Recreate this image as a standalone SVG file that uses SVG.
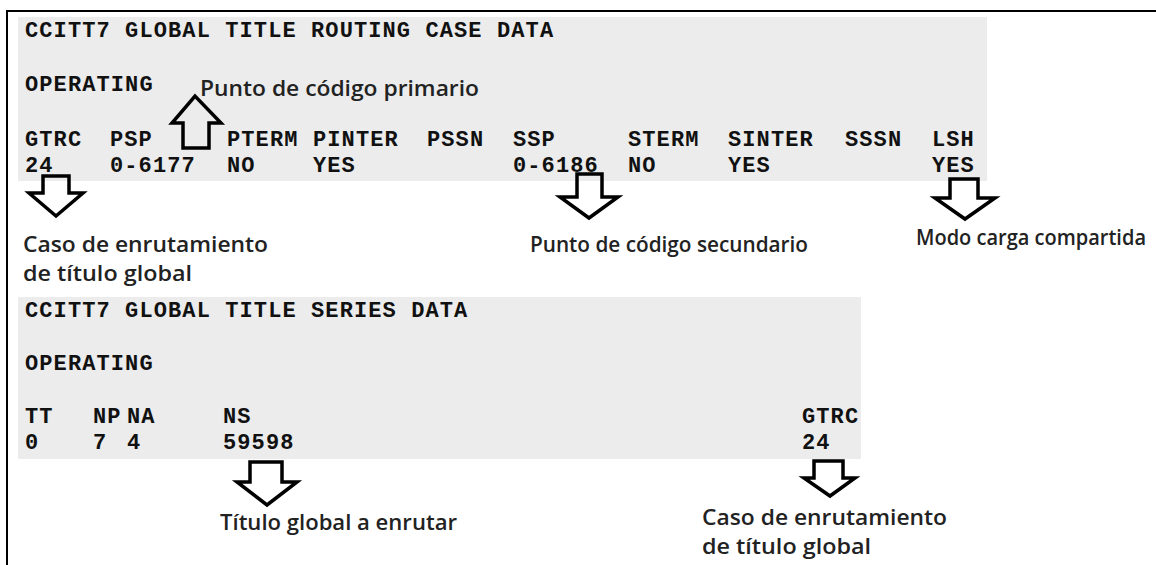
<svg xmlns="http://www.w3.org/2000/svg" width="1156" height="565" viewBox="0 0 1156 565">
<style>
.bg{fill:#ececec}
.frame{stroke:#000;stroke-width:2;fill:none}
.m{font-family:"Liberation Mono","DejaVu Sans Mono",monospace;font-weight:bold;font-size:22px;letter-spacing:1.1px;fill:#111}
.lb{font-family:"Open Sans","Noto Sans",sans-serif;font-weight:600;font-size:22px;fill:#222}
.ar{fill:none;stroke:#000;stroke-width:3.5;stroke-linejoin:miter}
</style>
<rect width="1156" height="565" fill="#fff"/>
<path class="frame" d="M7 565 V11 H1156"/>
<g id="routing-case-data">
<rect class="bg" x="18" y="17" width="969" height="164"/>
<text class="m" x="25" y="37">CCITT7 GLOBAL TITLE ROUTING CASE DATA</text>
<text class="m" x="25" y="91">OPERATING</text>
<text class="m" x="25" y="146">GTRC</text>
<text class="m" x="110" y="146">PSP</text>
<text class="m" x="227" y="146">PTERM</text>
<text class="m" x="313" y="146">PINTER</text>
<text class="m" x="427" y="146">PSSN</text>
<text class="m" x="513" y="146">SSP</text>
<text class="m" x="628" y="146">STERM</text>
<text class="m" x="728" y="146">SINTER</text>
<text class="m" x="845" y="146">SSSN</text>
<text class="m" x="932" y="146">LSH</text>
<text class="m" x="25" y="172">24</text>
<text class="m" x="110" y="172">0-6177</text>
<text class="m" x="227" y="172">NO</text>
<text class="m" x="313" y="172">YES</text>
<text class="m" x="513" y="172">0-6186</text>
<text class="m" x="628" y="172">NO</text>
<text class="m" x="728" y="172">YES</text>
<text class="m" x="932" y="172">YES</text>
</g>
<g id="series-data">
<rect class="bg" x="18" y="297" width="843" height="162"/>
<text class="m" x="25" y="317">CCITT7 GLOBAL TITLE SERIES DATA</text>
<text class="m" x="25" y="370">OPERATING</text>
<text class="m" x="25" y="423">TT</text>
<text class="m" x="93" y="423">NP</text>
<text class="m" x="127" y="423">NA</text>
<text class="m" x="223" y="423">NS</text>
<text class="m" x="802" y="423">GTRC</text>
<text class="m" x="25" y="449">0</text>
<text class="m" x="93" y="449">7</text>
<text class="m" x="127" y="449">4</text>
<text class="m" x="223" y="449">59598</text>
<text class="m" x="802" y="449">24</text>
</g>
<g id="label-primario"><text class="lb" x="200" y="96" textLength="279" lengthAdjust="spacingAndGlyphs">Punto de código primario</text></g>
<g id="label-gtrc-top">
<text class="lb" x="23" y="252" textLength="245" lengthAdjust="spacingAndGlyphs">Caso de enrutamiento</text>
<text class="lb" x="23" y="281" textLength="169" lengthAdjust="spacingAndGlyphs">de título global</text>
</g>
<g id="label-secundario"><text class="lb" x="530" y="252" textLength="278" lengthAdjust="spacingAndGlyphs">Punto de código secundario</text></g>
<g id="label-lsh"><text class="lb" x="916" y="245" style="font-size:21px" textLength="230" lengthAdjust="spacingAndGlyphs">Modo carga compartida</text></g>
<g id="label-ns"><text class="lb" x="220" y="530" textLength="237" lengthAdjust="spacingAndGlyphs">Título global a enrutar</text></g>
<g id="label-gtrc-bottom">
<text class="lb" x="702" y="525" textLength="245" lengthAdjust="spacingAndGlyphs">Caso de enrutamiento</text>
<text class="lb" x="702" y="554" textLength="169" lengthAdjust="spacingAndGlyphs">de título global</text>
</g>
<g id="connectors">
<path class="ar" d="M183 148 V123 H172 L195 96 L221 123 H209 V148 Z"/>
<path class="ar" d="M43 176 V193 H29 L56 216 L83 193 H69 V176 Z"/>
<path class="ar" d="M577 174 V197 H560 L589 218 L618 197 H602 V174 Z"/>
<path class="ar" d="M950 179 V198 H935 L965 219 L995 198 H978 V179 Z"/>
<path class="ar" d="M250 462 V482 H237 L267 505 L297 482 H282 V462 Z"/>
<path class="ar" d="M814 461 V478 H804 L830 496 L855 478 H843 V461 Z"/>
</g>
</svg>
